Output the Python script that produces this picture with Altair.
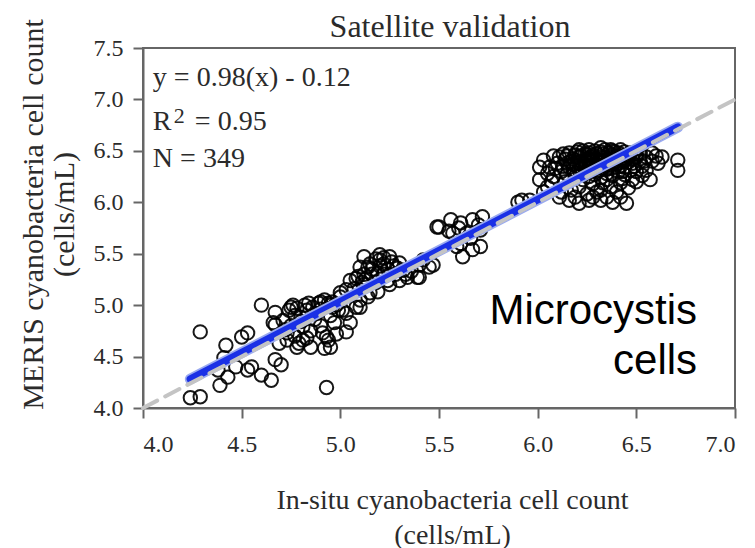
import altair as alt
import pandas as pd

# ---- data ----
low_pts = [
    (4.24, 4.10), (4.29, 4.11), (4.29, 4.74), (4.39, 4.22), (4.38, 4.37), (4.43, 4.30),
    (4.41, 4.49), (4.42, 4.61), (4.47, 4.40), (4.50, 4.69), (4.53, 4.73), (4.53, 4.37),
    (4.55, 4.40), (4.60, 4.32), (4.65, 4.27), (4.67, 4.47), (4.70, 4.42), (4.60, 5.00),
    (4.67, 4.93), (4.67, 4.81), (4.66, 4.83), (4.75, 4.98), (4.77, 4.90), (4.73, 4.73),
    (4.81, 4.79), (4.79, 4.63), (4.84, 5.02), (4.89, 5.02), (4.92, 5.05), (4.87, 4.86),
    (4.91, 4.73), (4.94, 4.66), (4.92, 4.58), (4.99, 4.95), (4.97, 4.83), (4.93, 4.20),
    (4.76, 5.00), (4.96, 4.98), (4.93, 4.69), (4.95, 4.59), (4.81, 4.66), (4.85, 4.59),
    (4.78, 4.59), (4.73, 4.66), (4.69, 4.63), (4.71, 4.85), (4.75, 4.80), (4.83, 4.95),
    (4.88, 4.92), (4.90, 4.80), (4.85, 4.75), (4.95, 4.90), (4.80, 4.88), (4.72, 4.76),
    (4.98, 4.72), (4.90, 4.96), (4.74, 4.95), (4.78, 4.97), (4.82, 5.00), (4.86, 4.98),
    (4.94, 5.02), (4.98, 5.00), (4.80, 4.84), (4.77, 4.70), (4.83, 4.68),
]
mid_pts = [
    (5.00, 5.08), (4.96, 5.03), (4.90, 5.03), (4.95, 5.00), (5.03, 4.92), (5.05, 4.83),
    (5.03, 4.74), (5.01, 4.95), (5.08, 4.98), (5.10, 5.05), (5.05, 5.24), (5.08, 5.26),
    (5.12, 5.47), (5.14, 5.37), (5.20, 5.44), (5.25, 5.47), (5.19, 5.31), (5.24, 5.24),
    (5.15, 5.12), (5.30, 5.41), (5.34, 5.27), (5.39, 5.27), (5.45, 5.37), (5.12, 5.20),
    (5.03, 5.15), (5.00, 5.12), (5.14, 5.08), (5.19, 5.13), (5.10, 4.98), (5.20, 5.49),
    (5.10, 5.37), (5.16, 5.30), (5.22, 5.30), (5.28, 5.30), (5.32, 5.34), (5.25, 5.20),
    (5.18, 5.22), (5.27, 5.38), (5.36, 5.33), (5.40, 5.39), (5.47, 5.39), (5.40, 5.27),
    (5.42, 5.44), (5.22, 5.40), (5.07, 5.16), (5.13, 5.26), (5.30, 5.24),
    (5.15, 5.40), (5.18, 5.45), (5.22, 5.46), (5.16, 5.35), (5.20, 5.38), (5.24, 5.35),
    (5.12, 5.30), (5.26, 5.42), (5.29, 5.36), (5.33, 5.30), (5.09, 5.28), (5.11, 5.22),
    (5.49, 5.76), (5.50, 5.76), (5.56, 5.83), (5.61, 5.80), (5.67, 5.83), (5.72, 5.86),
    (5.57, 5.70), (5.64, 5.70), (5.71, 5.73), (5.62, 5.47), (5.67, 5.54), (5.71, 5.57),
    (5.61, 5.60), (5.59, 5.57), (5.66, 5.65), (5.70, 5.78), (5.60, 5.75), (5.55, 5.72),
    (5.90, 6.00),
]
high_pts = [
    (5.96, 6.02), (5.92, 6.02), (6.01, 6.34), (6.03, 6.41), (6.06, 6.34), (6.01, 6.22),
    (6.05, 6.15), (6.08, 6.25), (6.11, 6.44), (6.16, 6.48), (6.21, 6.51), (6.26, 6.51),
    (6.32, 6.53), (6.37, 6.51), (6.42, 6.51), (6.47, 6.48), (6.52, 6.48), (6.58, 6.48),
    (6.61, 6.38), (6.55, 6.31), (6.57, 6.22), (6.48, 6.22), (6.42, 6.19), (6.37, 6.15),
    (6.32, 6.12), (6.16, 6.02), (6.21, 5.99), (6.26, 6.02), (6.32, 6.02), (6.35, 6.05),
    (6.42, 6.05), (6.45, 5.99), (6.11, 6.05), (6.71, 6.41), (6.71, 6.31), (6.58, 6.40),
    (6.50, 6.30), (6.52, 6.40),
    (6.12, 6.30), (6.15, 6.38), (6.18, 6.42), (6.20, 6.35), (6.22, 6.45), (6.24, 6.40),
    (6.25, 6.30), (6.27, 6.44), (6.28, 6.36), (6.30, 6.47), (6.31, 6.40), (6.33, 6.33),
    (6.34, 6.44), (6.35, 6.38), (6.36, 6.48), (6.38, 6.42), (6.39, 6.34), (6.40, 6.45),
    (6.41, 6.38), (6.43, 6.42), (6.44, 6.34), (6.45, 6.46), (6.46, 6.39), (6.48, 6.42),
    (6.49, 6.35), (6.19, 6.25), (6.23, 6.22), (6.26, 6.25), (6.29, 6.27), (6.32, 6.24),
    (6.35, 6.28), (6.38, 6.26), (6.41, 6.30), (6.44, 6.27), (6.14, 6.20), (6.17, 6.12),
    (6.21, 6.15), (6.28, 6.18), (6.30, 6.10), (6.25, 6.08), (6.40, 6.10), (6.46, 6.14),
    (6.53, 6.35), (6.55, 6.44), (6.60, 6.45), (6.10, 6.38), (6.08, 6.45), (6.13, 6.47),
    (6.23, 6.50), (6.29, 6.50), (6.34, 6.51), (6.39, 6.49), (6.44, 6.49), (6.21, 6.38),
    (6.26, 6.35), (6.31, 6.31), (6.36, 6.33), (6.42, 6.35), (6.47, 6.31), (6.18, 6.32),
    (6.24, 6.47), (6.33, 6.39), (6.37, 6.37), (6.27, 6.40), (6.20, 6.28), (6.43, 6.23),
    (6.33, 6.19), (6.15, 6.27), (6.05, 6.28), (6.07, 6.20), (6.03, 6.10), (6.12, 6.10),
    (6.19, 6.05), (6.28, 6.05), (6.38, 6.00), (6.50, 6.20), (6.53, 6.26), (6.63, 6.44),
    (6.35, 6.22), (6.29, 6.32), (6.23, 6.30),
    (6.14, 6.42), (6.16, 6.34), (6.19, 6.46), (6.22, 6.40), (6.24, 6.35), (6.26, 6.42),
    (6.28, 6.46), (6.30, 6.36), (6.32, 6.44), (6.34, 6.36), (6.36, 6.42), (6.38, 6.46),
    (6.40, 6.40), (6.42, 6.45), (6.44, 6.40), (6.46, 6.44), (6.48, 6.38), (6.50, 6.44),
    (6.17, 6.40), (6.21, 6.44), (6.25, 6.46), (6.29, 6.42), (6.33, 6.47), (6.37, 6.44),
    (6.41, 6.48), (6.45, 6.42), (6.27, 6.30), (6.31, 6.35), (6.35, 6.32), (6.39, 6.38),
    (6.43, 6.30), (6.22, 6.33), (6.18, 6.37), (6.09, 6.33), (6.13, 6.35), (6.15, 6.45),
    (6.20, 6.49), (6.26, 6.48), (6.32, 6.49), (6.38, 6.50), (6.44, 6.45), (6.50, 6.47),
    (6.54, 6.40),
]

x_ticks = [4.0, 4.5, 5.0, 5.5, 6.0, 6.5, 7.0]
y_ticks = [4.0, 4.5, 5.0, 5.5, 6.0, 6.5, 7.0, 7.5]

reg_x = [4.24, 6.71]   # fitted regression line (blue)
reg_y = [4.28, 6.73]
one_x = [4.0, 7.0]     # 1:1 line (grey dashed)
one_y = [4.0, 7.0]

chart_title = "Satellite validation"
stats_lines = ["y = 0.98(x) - 0.12", "N = 349"]
stats_y = [7.129, 6.342]
r_label_y = 6.702
r_value_text = "= 0.95"
species_lines = ["Microcystis", "cells"]
species_y = [4.816, 4.330]

# ---- build tables ----
pts = pd.DataFrame(low_pts + mid_pts + high_pts, columns=["x", "y"])
reg_df = pd.DataFrame({"x": reg_x, "y": reg_y})
one_df = pd.DataFrame({"x": one_x, "y": one_y})
stats_df = pd.DataFrame({"x": [4.05] * len(stats_lines), "y": stats_y, "t": stats_lines})
r_df = pd.DataFrame({"x": [4.05], "y": [r_label_y], "t": ["R"]})
sup_df = pd.DataFrame({"x": [4.05], "y": [r_label_y], "t": ["2"]})
rval_df = pd.DataFrame({"x": [4.05], "y": [r_label_y], "t": [r_value_text]})
sp_df = pd.DataFrame({"x": [6.808] * 2, "y": species_y, "t": species_lines})
title_df = pd.DataFrame({"t": [chart_title]})

SERIF = "Liberation Serif"
TXT = "#2b2b2b"
AX = "#666666"

xs = alt.Scale(domain=[4, 7], nice=False, zero=False)
ys = alt.Scale(domain=[4, 7.5], nice=False, zero=False)

X_TITLE = ["In-situ cyanobacteria cell count", "(cells/mL)"]
Y_TITLE = ["MERIS cyanobacteria cell count", "(cells/mL)"]

xax = alt.Axis(
    values=x_ticks, format=".1f", grid=False, title=X_TITLE,
    labelPadding=14, titleLineHeight=35, titleBaseline="alphabetic",
    titleAlign="center", titleX=309, titleY=100,
)
yax = alt.Axis(
    values=y_ticks, format=".1f", grid=False, title=Y_TITLE,
    labelPadding=10, titleFontSize=30, titleLineHeight=31, titleBaseline="alphabetic",
    titleAlign="center", titleAngle=270, titleX=-101, titleY=166,
)

enc_x = alt.X("x:Q", scale=xs, axis=xax, title=X_TITLE)
enc_y = alt.Y("y:Q", scale=ys, axis=yax, title=Y_TITLE)

points = alt.Chart(pts).mark_point(
    shape="circle", filled=False, color="black", strokeWidth=2, size=180, opacity=0.9
).encode(x=enc_x, y=enc_y)

def line_layer(df, **kw):
    return alt.Chart(df).mark_line(**kw).encode(x=enc_x, y=enc_y)

reg_halo = line_layer(reg_df, color="#9aaaf0", strokeWidth=11, strokeCap="round")
reg_line = line_layer(reg_df, color="#1a30e6", strokeWidth=7.5, strokeCap="round")
one_line = line_layer(one_df, color="#c4c4c4", strokeWidth=4, strokeDash=[16, 9], strokeCap="round")

def text_layer(df, **kw):
    return alt.Chart(df).mark_text(**kw).encode(x=enc_x, y=enc_y, text="t:N")

stats = text_layer(stats_df, align="left", baseline="alphabetic", font=SERIF, fontSize=28, color=TXT)
r_txt = text_layer(r_df, align="left", baseline="alphabetic", font=SERIF, fontSize=28, color=TXT)
sup_txt = text_layer(sup_df, align="left", baseline="alphabetic", font=SERIF, fontSize=22, color=TXT, dx=21, dy=-7)
rval_txt = text_layer(rval_df, align="left", baseline="alphabetic", font=SERIF, fontSize=28, color=TXT, dx=42)
species = text_layer(sp_df, align="right", baseline="alphabetic", font="Liberation Sans", fontSize=42, color="black")

# chart heading, drawn above the plot frame
heading = alt.Chart(title_df).mark_text(
    align="center", baseline="alphabetic", font=SERIF, fontSize=32, color=TXT
).encode(x=alt.value(307), y=alt.value(-11), text="t:N")

chart = alt.layer(
    points, reg_halo, reg_line, one_line, stats, r_txt, sup_txt, rval_txt, species, heading
).properties(
    width=592, height=360,
    autosize=alt.AutoSizeParams(type="none"),
    padding={"left": 143, "top": 48, "right": 20, "bottom": 140},
    background="white",
).configure_view(
    stroke=AX, strokeWidth=2
).configure_axis(
    domainColor=AX, domainWidth=2, tickColor=AX, tickWidth=2, tickSize=10,
    labelFont=SERIF, labelFontSize=24, labelColor=TXT,
    titleFont=SERIF, titleFontSize=28, titleFontWeight="normal", titleColor=TXT,
)

chart.save("out.html", embed_options={"renderer": "svg", "actions": False})
